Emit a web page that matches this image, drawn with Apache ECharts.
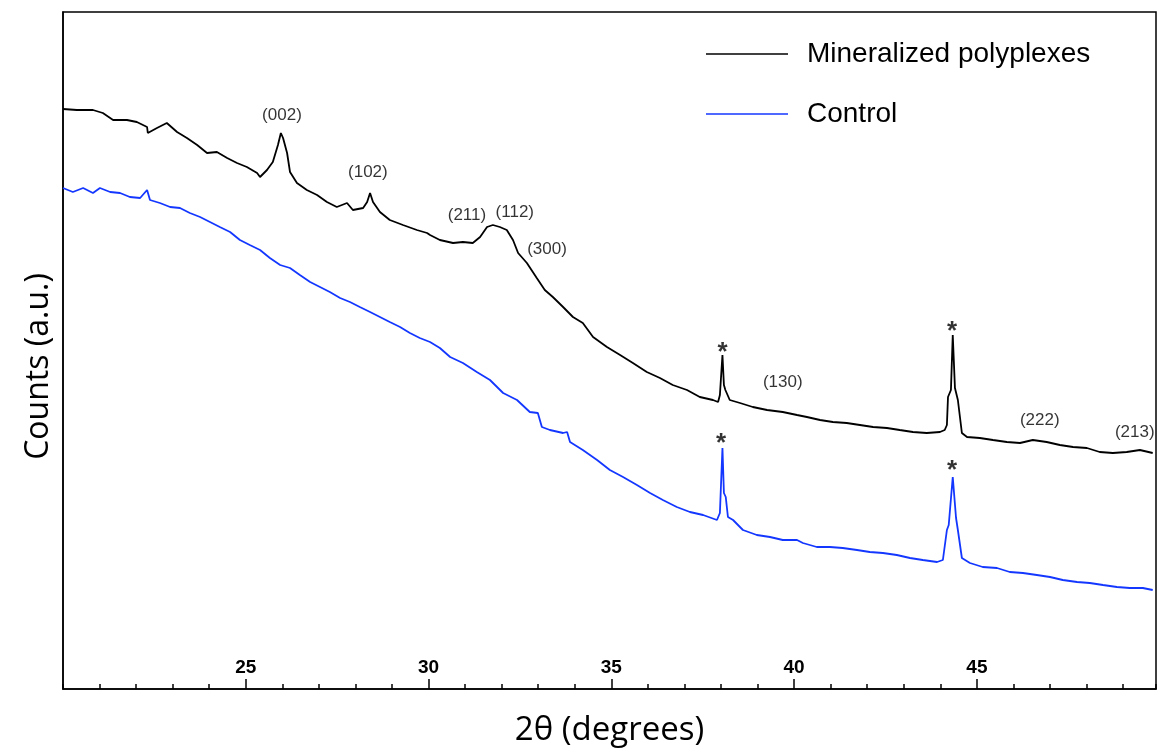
<!DOCTYPE html>
<html>
<head>
<meta charset="utf-8">
<script src="https://cdn.jsdelivr.net/npm/echarts@6/dist/echarts.min.js"></script>
<style>
html,body{margin:0;padding:0;background:#fff;}
#chart{width:1157px;height:749px;}
</style>
</head>
<body>
<div id="chart"></div>
<script>
// 2θ (degrees) and counts (a.u.)
const minX = [20.00,20.38,20.82,21.09,21.37,21.75,22.02,22.30,22.32,22.57,22.84,23.12,23.39,23.67,23.94,24.21,24.49,24.76,25.03,25.31,25.39,25.58,25.74,25.88,25.96,26.02,26.13,26.21,26.40,26.67,26.95,27.22,27.49,27.77,27.93,28.21,28.32,28.40,28.48,28.67,28.94,29.30,29.68,29.96,30.04,30.31,30.67,30.94,31.21,31.41,31.60,31.76,31.95,32.14,32.31,32.45,32.69,32.96,33.18,33.40,33.68,33.95,34.22,34.50,34.88,35.24,35.59,35.97,36.33,36.68,37.07,37.42,37.78,37.92,37.97,38.04,38.08,38.12,38.24,38.52,38.87,39.26,39.69,40.08,40.35,40.71,41.06,41.44,41.80,42.16,42.54,42.89,43.25,43.63,43.99,44.12,44.18,44.21,44.29,44.34,44.40,44.48,44.59,44.73,45.08,45.44,45.82,46.18,46.53,46.91,47.27,47.63,48.01,48.36,48.72,49.10,49.46,49.81];
const minY = [580,579,579,576,569,569,567,562,556,561,566,557,551,544,536,537,531,526,522,516,512,519,527,544,556,551,536,517,506,499,494,487,482,486,479,481,487,496,487,477,469,464,459,456,454,449,446,447,446,452,462,464,462,459,449,436,426,411,399,392,382,372,366,352,342,334,326,317,311,304,299,292,289,287,294,334,304,299,289,286,282,279,277,274,272,269,267,266,264,262,261,259,257,256,257,259,264,292,299,354,301,289,256,252,251,249,247,246,249,247,244,242,241,237,236,237,239,236];

const ctlX = [20.00,20.27,20.55,20.82,21.01,21.29,21.56,21.83,22.11,22.30,22.38,22.65,22.93,23.20,23.47,23.75,24.02,24.29,24.57,24.84,25.11,25.39,25.66,25.94,26.21,26.48,26.76,27.03,27.30,27.58,27.85,28.12,28.40,28.67,28.94,29.22,29.49,29.76,30.04,30.31,30.59,30.94,31.32,31.68,32.04,32.42,32.77,32.99,33.10,33.32,33.68,33.79,33.87,34.22,34.61,34.96,35.32,35.70,36.06,36.41,36.79,37.15,37.51,37.89,37.97,38.04,38.08,38.13,38.19,38.33,38.60,38.98,39.34,39.69,40.08,40.24,40.62,40.98,41.33,41.72,42.07,42.43,42.81,43.17,43.52,43.91,44.07,44.18,44.23,44.34,44.43,44.48,44.59,44.81,45.16,45.55,45.90,46.26,46.64,47.00,47.35,47.74,48.09,48.45,48.83,49.18,49.54,49.81];
const ctlY = [501,497,501,496,501,497,496,492,491,499,489,486,482,481,476,472,467,462,457,449,444,439,431,424,421,414,407,402,397,391,387,382,377,372,367,362,356,351,347,341,332,326,317,309,296,289,277,276,262,259,256,257,247,239,229,219,212,204,196,189,182,177,174,169,176,241,196,192,172,169,159,154,152,149,149,146,142,142,141,139,137,136,134,131,129,127,129,159,164,212,171,159,131,126,122,121,117,116,114,112,109,107,106,104,102,101,101,99];

// peak annotations
const noteX = [25.99,28.34,31.05,32.36,33.24,39.69,46.72,49.32];
const noteY = [574,517,474,477,440,307,269,257];
const noteText = ['(002)','(102)','(211)','(112)','(300)','(130)','(222)','(213)'];
const starX = [38.04,44.32,38.00,44.32];
const starY = [336,357,245,218];

const xTicks = [25,30,35,40,45];

const chart = echarts.init(document.getElementById('chart'));
const zip = (a,b) => a.map((v,i)=>[v,b[i]]);
const SANS = "'Liberation Sans'";

const option = {
  animation:false,
  backgroundColor:'#fff',
  grid:{left:63,right:1,top:12,bottom:60,show:true,borderColor:'#000',borderWidth:1.5,
    containLabel:false,outerBoundsMode:'none'},
  legend:{
    orient:'vertical',left:701,top:35,itemWidth:82,itemHeight:14,itemGap:32,
    data:['Mineralized polyplexes','Control'],
    textStyle:{fontFamily:SANS,fontSize:28,color:'#000',padding:[0,0,0,14]},
    icon:'path://M0,0 L100,0 L100,1.6 L0,1.6 Z'
  },
  xAxis:[{
    type:'value',min:20,max:49.9,interval:5,position:'bottom',
    name:'2θ (degrees)',nameLocation:'middle',nameGap:25,
    nameTextStyle:{fontFamily:"'Open Sans'",fontSize:33,color:'#000'},
    axisLine:{show:true,lineStyle:{color:'#000',width:1.5}},
    axisTick:{show:true,inside:true,length:10,lineStyle:{color:'#000',width:1.5}},
    axisLabel:{inside:true,margin:12,showMinLabel:false,showMaxLabel:false,
      fontFamily:SANS,fontWeight:'bold',fontSize:19,color:'#000',
      formatter:v=> xTicks.includes(Math.round(v*100)/100)? String(v):''},
    splitLine:{show:false}
  },{
    type:'value',min:20,max:49.9,interval:1,position:'bottom',
    axisLine:{show:false},
    axisTick:{show:true,inside:true,length:5,lineStyle:{color:'#000',width:1.5}},
    axisLabel:{show:false},splitLine:{show:false}
  }],
  yAxis:{
    type:'value',min:0,max:677,
    name:'Counts (a.u.)',nameLocation:'middle',nameGap:8,
    nameTextStyle:{fontFamily:"'Open Sans'",fontSize:32,color:'#000',padding:[0,32,0,0]},
    axisLine:{show:true,lineStyle:{color:'#000',width:1.5}},
    axisTick:{show:false},axisLabel:{show:false},splitLine:{show:false}
  },
  series:[
    {name:'Mineralized polyplexes',type:'line',data:zip(minX,minY),symbol:'none',
      lineStyle:{color:'#000',width:1.8},itemStyle:{color:'#000'}},
    {name:'Control',type:'line',data:zip(ctlX,ctlY),symbol:'none',
      lineStyle:{color:'#1437ff',width:1.8},itemStyle:{color:'#1437ff'}},
    {name:'notes',type:'scatter',symbolSize:1,itemStyle:{color:'rgba(0,0,0,0)'},
      data:noteX.map((x,i)=>({value:[x,noteY[i]],name:noteText[i]})),
      label:{show:true,position:'inside',formatter:p=>p.name,color:'#000',
        fontFamily:SANS,fontSize:17}},
    {name:'stars',type:'scatter',symbolSize:1,itemStyle:{color:'rgba(0,0,0,0)'},
      data:zip(starX,starY),
      label:{show:true,position:'inside',formatter:'*',color:'#000',
        fontFamily:SANS,fontWeight:'bold',fontSize:26}}
  ]
};
chart.setOption(option);
</script>
</body>
</html>
